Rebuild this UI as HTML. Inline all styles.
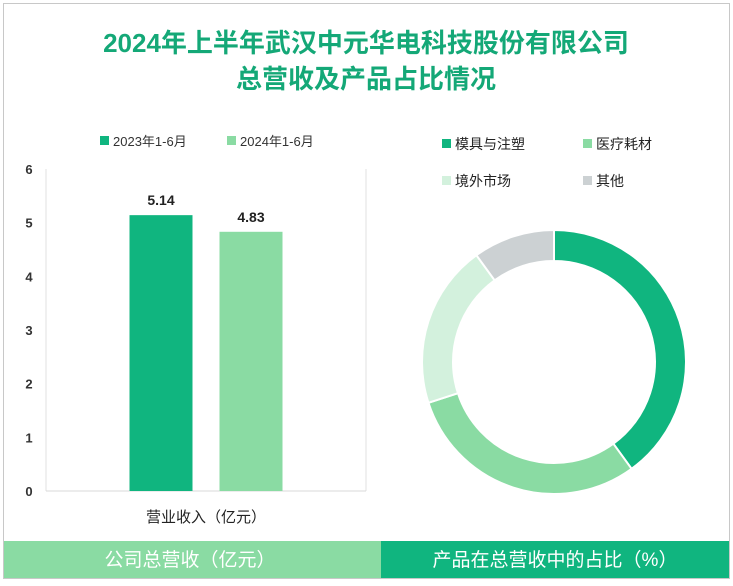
<!DOCTYPE html>
<html><head><meta charset="utf-8"><style>
body{margin:0;width:733px;height:581px;background:#fff;overflow:hidden;font-family:"Liberation Sans","Noto Sans CJK SC",sans-serif;}
svg text{font-family:"Liberation Sans","Noto Sans CJK SC",sans-serif;}
</style></head><body>
<svg id="c" width="733" height="581">
<rect x="3.5" y="3.5" width="726" height="575" fill="#fff" stroke="#c8c8c8"/>
<text x="366" y="52" text-anchor="middle" font-size="26" font-weight="bold" fill="#14a877">2024年上半年武汉中元华电科技股份有限公司</text>
<text x="366" y="88" text-anchor="middle" font-size="26" font-weight="bold" fill="#14a877">总营收及产品占比情况</text>
<g id="bar"></g>
<g id="pie"></g>
<rect x="4" y="541" width="377" height="37" fill="#8adba3"/>
<rect x="381" y="541" width="348" height="37" fill="#10b57f"/>
<text x="190" y="566" text-anchor="middle" font-size="19" fill="#fff">公司总营收（亿元）</text>
<text x="555" y="566" text-anchor="middle" font-size="19" fill="#fff">产品在总营收中的占比（%）</text>
</svg>
<script>
const seriesNames=["2023年1-6月","2024年1-6月"];
const revenue=[5.14,4.83];
const yTicks=[0,1,2,3,4,5,6];
const pieLabels=["模具与注塑","医疗耗材","境外市场","其他"];
const pieValues=[40,30,20,10];
const barColors=["#10b57f","#8adba3"];
const pieColors=["#10b57f","#8adba3","#d3f1dd","#ccd1d3"];
const NS="http://www.w3.org/2000/svg";
function mk(t,a,p,txt){const e=document.createElementNS(NS,t);for(const k in a)e.setAttribute(k,a[k]);if(txt!=null)e.textContent=txt;p.appendChild(e);return e;}
const bar=document.getElementById('bar');
const x0=46,x1=366,yB=491,yT=169,yMax=6;
const y=v=>yB-(v/yMax)*(yB-yT);
let e=mk('line',{x1:x0,y1:yT,x2:x0,y2:yB,stroke:'#e0e0e0'},bar);

e=mk('line',{x1:x1,y1:yT,x2:x1,y2:yB,stroke:'#e0e0e0'},bar);

e=mk('line',{x1:x0,y1:yB,x2:x1,y2:yB,stroke:'#d9d9d9'},bar);

yTicks.forEach(t=>{const l=mk('text',{x:29,y:y(t)+5,'text-anchor':'middle','font-size':13,'font-weight':'bold',fill:'#333'},bar,t);
});
const bw=63,gap=27,start=(x0+x1)/2-bw-gap/2;
revenue.forEach((v,i)=>{const bx=start+i*(bw+gap);
const r=mk('rect',{x:bx,y:y(v),width:bw,height:yB-y(v),fill:barColors[i]},bar);

const t=mk('text',{x:bx+bw/2,y:y(v)-10,'text-anchor':'middle','font-size':14,'font-weight':'bold',fill:'#222'},bar,v.toFixed(2));
});
e=mk('text',{x:206,y:522,'text-anchor':'middle','font-size':15,fill:'#222'},bar,'营业收入（亿元）');

seriesNames.forEach((n,i)=>{const lx=100+i*127;
const s=mk('rect',{x:lx,y:136,width:9,height:9,fill:barColors[i]},bar);

const t=mk('text',{x:lx+13,y:146,'font-size':13,fill:'#333'},bar,n);
});
const pie=document.getElementById('pie');
const cx=554,cy=362,ro=132,ri=101;
const tot=pieValues.reduce((a,b)=>a+b,0);
let acc=0;
const pt=(r,a)=>[cx+r*Math.sin(a),cy-r*Math.cos(a)];
pieValues.forEach((v,i)=>{const a0=acc/tot*2*Math.PI;acc+=v;const a1=acc/tot*2*Math.PI;const lg=a1-a0>Math.PI?1:0;
const [p1x,p1y]=pt(ro,a0),[p2x,p2y]=pt(ro,a1),[p3x,p3y]=pt(ri,a1),[p4x,p4y]=pt(ri,a0);
const d=`M${p1x},${p1y}A${ro},${ro} 0 ${lg} 1 ${p2x},${p2y}L${p3x},${p3y}A${ri},${ri} 0 ${lg} 0 ${p4x},${p4y}Z`;
const s=mk('path',{d:d,fill:pieColors[i],stroke:'#fff','stroke-width':2},pie);
});
pieLabels.forEach((n,i)=>{const lx=442+(i%2)*141,ly=148+Math.floor(i/2)*37;
const s=mk('rect',{x:lx,y:ly-9,width:9,height:9,fill:pieColors[i]},pie);

const t=mk('text',{x:lx+13,y:ly+1,'font-size':14,fill:'#222'},pie,n);
});
</script>
</body></html>
